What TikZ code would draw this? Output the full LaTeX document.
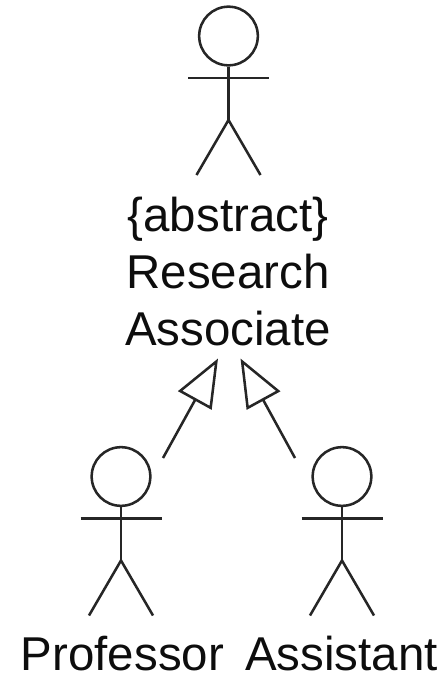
\documentclass[tikz,border=0pt]{standalone}
\usepackage{fontspec}
\setmainfont{Liberation Sans}
\usetikzlibrary{arrows.meta}
\tikzset{
  lbl/.style={font=\fontsize{35.6}{42}\selectfont, anchor=base, inner sep=0pt, text=black!95},
  stick/.style={line width=1.9pt, black!85},
  gen/.style={line width=1.9pt, black!85, -{Triangle[open, fill=white, length=36pt, width=28.5pt, line width=1.9pt]}}
}
% one stick figure: #1 name, #2 head centre x, #3 head centre y (pixels)
\newcommand{\actor}[3]{
  \node[stick, circle, draw, minimum size=44pt, inner sep=0pt] (#1head) at (#2, -#3){};
  \coordinate (#1hip) at (#2, -#3-84);
  \coordinate (#1armL) at (#2-40.5, -#3-42);
  \coordinate (#1armR) at (#2+40.5, -#3-42);
  \coordinate (#1footL) at (#2-32, -#3-139);
  \coordinate (#1footR) at (#2+32, -#3-139);
  \draw[stick] (#1head.south) -- (#1hip);
  \draw[stick] (#1armL) -- (#1armR);
  \draw[stick] (#1footL) -- (#1hip) -- (#1footR);
}
\begin{document}
\begin{tikzpicture}[x=0.75pt, y=0.75pt]
  \useasboundingbox (0, 0) rectangle (443, -676);

  \actor{assoc}{228.5}{36}
  \actor{prof}{121}{476.5}
  \actor{asst}{342}{476.5}

  \node[lbl] (abstract) at (228, -231){\{abstract\}};
  \node[lbl] (research) at (228, -288){Research};
  \node[lbl] (associate) at (228, -345){Associate};
  \node[lbl] (professor) at (122.5, -670){Professor};
  \node[lbl] (assistant) at (341.5, -670){Assistant};

  \coordinate (profTop) at (163, -458);
  \coordinate (asstTop) at (295, -458);
  \coordinate (tipL) at (218, -358.5);
  \coordinate (tipR) at (240.5, -358.5);
  \draw[gen] (profTop) -- (tipL);
  \draw[gen] (asstTop) -- (tipR);
\end{tikzpicture}
\end{document}
